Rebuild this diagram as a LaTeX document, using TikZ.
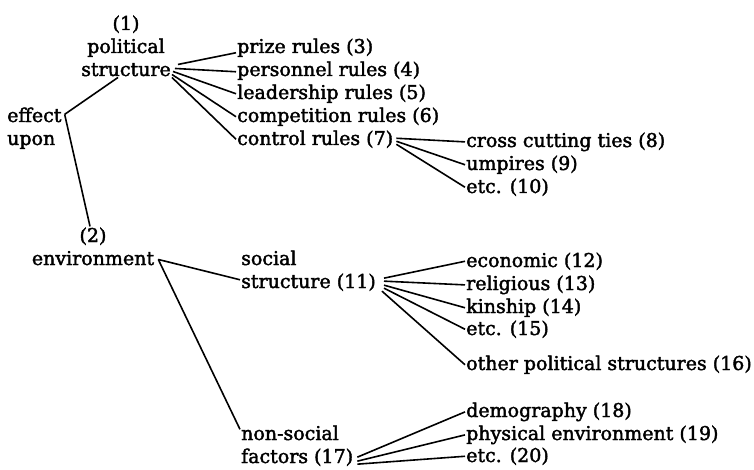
\documentclass[tikz,border=0pt]{standalone}
\usepackage{fontspec}
\setmainfont{DejaVu Serif}
\newfontfamily\lblfont{DejaVu Serif}[FakeBold=2]
\usetikzlibrary{positioning}
\tikzset{
  lbl/.style={inner sep=1pt, anchor=base west, font=\lblfont\fontsize{19}{23}\selectfont},
  grp/.style={lbl, align=left},
  br/.style={line width=1.6pt},
}
\begin{document}
\begin{tikzpicture}[x=1pt, y=-1pt]
  \useasboundingbox (0,0) rectangle (754,470);
  % main branches
  \node[lbl, align=center, anchor=base] (ps) at (126,76) {(1)\\political\\structure};
  \node[grp] (eu) at (6,145) {effect\\upon};
  \node[lbl, align=center, anchor=base] (env) at (93,265) {(2)\\environment};
  \node[grp] (ss) at (240,288) {social\\structure (11)};
  \node[grp] (ns) at (240,463) {non-social\\factors (17)};
  % rules
  \node[lbl] (p3) at (236,53) {prize rules (3)};
  \node[lbl] (p4) at (236,76) {personnel rules (4)};
  \node[lbl] (p5) at (236,99) {leadership rules (5)};
  \node[lbl] (p6) at (236,122) {competition rules (6)};
  \node[lbl] (p7) at (236,145) {control rules (7)};
  \node[lbl] (c8) at (465,147) {cross cutting ties (8)};
  \node[lbl] (c9) at (465,170) {umpires (9)};
  \node[lbl] (c10) at (465,193) {etc. (10)};
  % social structure
  \node[lbl] (s12) at (465,267) {economic (12)};
  \node[lbl] (s13) at (465,290) {religious (13)};
  \node[lbl] (s14) at (465,313) {kinship (14)};
  \node[lbl] (s15) at (465,335) {etc. (15)};
  \node[lbl] (s16) at (465,370) {other political structures (16)};
  % non-social
  \node[lbl] (n18) at (465,417) {demography (18)};
  \node[lbl] (n19) at (465,440) {physical environment (19)};
  \node[lbl] (n20) at (465,462) {etc. (20)};
  % connectors
  \coordinate (eff) at ([xshift=2pt,yshift=-8pt]eu.north east);
  \draw[br] (eff) -- ([xshift=-8pt]ps.south);
  \draw[br] (eff) -- ([xshift=-3pt]env.north);
  \foreach \c/\dx/\dy/\ey in {p3/6/13/-5, p4/3/9/-1, p5/1/6/0, p6/0/3/0, p7/0/0/0}
    \draw[br] ([xshift=\dx pt,yshift=\dy pt]ps.south east) -- ([yshift=\ey pt]\c.west);
  \foreach \c/\dy in {c8/1, c9/-2, c10/-5}
    \draw[br] ([xshift=2pt,yshift=\dy pt]p7.east) -- (\c.west);
  \coordinate (envj) at ([xshift=3pt,yshift=7pt]env.south east);
  \draw[br] (envj) -- ([yshift=-9pt]ss.west);
  \draw[br] (envj) -- ([yshift=-5pt]ns.north west);
  \foreach \c/\dx/\dy in {s12/7/14, s13/7/11, s14/7/7, s15/7/4, s16/5/1}
    \draw[br] ([xshift=\dx pt,yshift=\dy pt]ss.south east) -- (\c.west);
  \foreach \c/\dy in {n18/10, n19/6, n20/3}
    \draw[br] ([xshift=3pt,yshift=\dy pt]ns.south east) -- (\c.west);
\end{tikzpicture}
\end{document}
